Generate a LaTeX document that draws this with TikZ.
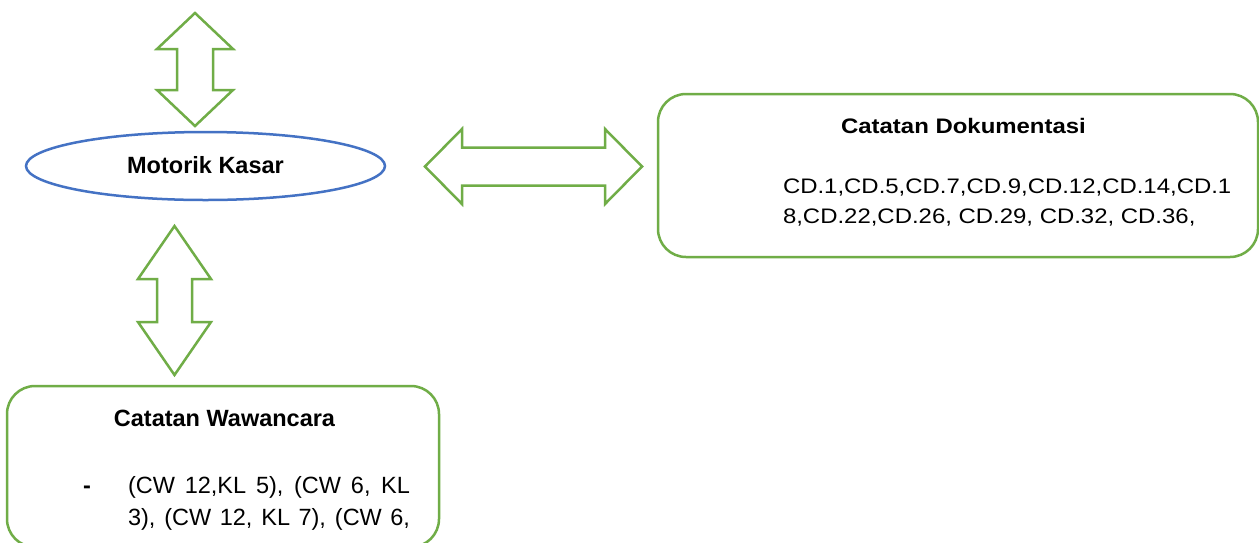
\documentclass[tikz,border=0pt]{standalone}
\usepackage{fontspec}
\usepackage{graphicx}
\setmainfont{Liberation Sans}
\definecolor{leaf}{HTML}{70AD47}
\definecolor{sky}{HTML}{4472C4}

% vertical double block arrow: centre x, top tip y, bottom tip y, head length, head half width, shaft half width
\newcommand\vblockarrow[6]{%
  \draw[blockarrow] (#1,#2) -- (#1+#5,#2+#4) -- (#1+#6,#2+#4) -- (#1+#6,#3-#4)
    -- (#1+#5,#3-#4) -- (#1,#3) -- (#1-#5,#3-#4) -- (#1-#6,#3-#4)
    -- (#1-#6,#2+#4) -- (#1-#5,#2+#4) -- cycle;}
% horizontal double block arrow: centre y, left tip x, right tip x, head length, head half height, shaft half height
\newcommand\hblockarrow[6]{%
  \draw[blockarrow] (#2,#1) -- (#2+#4,#1-#5) -- (#2+#4,#1-#6) -- (#3-#4,#1-#6)
    -- (#3-#4,#1-#5) -- (#3,#1) -- (#3-#4,#1+#5) -- (#3-#4,#1+#6)
    -- (#2+#4,#1+#6) -- (#2+#4,#1+#5) -- cycle;}

\tikzset{
  blockarrow/.style={draw=leaf, line width=2.5pt, line join=miter, fill=white},
  notebox/.style={draw=leaf, line width=2.5pt, rounded corners=28pt},
  lbl/.style={inner sep=0pt, outer sep=0pt},
  headfont/.style={font=\fontsize{23.5}{28}\selectfont\bfseries},
  bodyfont/.style={font=\fontsize{23.5}{28}\selectfont},
}

\begin{document}
\begin{tikzpicture}[x=1pt, y=-1pt]
  \clip (0,0) rectangle (1259,542);
  \fill[white] (0,0) rectangle (1259,542);

  % central concept
  \draw[draw=sky, line width=2.5pt] (205.5,166) ellipse [x radius=179.5, y radius=34];
  \node[lbl, headfont, anchor=base] (motorik) at (205.5,173) {Motorik Kasar};

  % block arrows
  \vblockarrow{195}{13}{126}{36}{38}{18}
  \vblockarrow{174.5}{226}{375}{53}{36.5}{17.5}
  \hblockarrow{166.5}{425}{642}{37}{37.5}{19}

  % documentation notes
  \draw[notebox] (658,94) rectangle (1258,257);
  \node[lbl, anchor=base] (dokjudul) at (963.5,133)
    {\scalebox{1.14}[1]{\fontsize{21}{25}\selectfont\bfseries Catatan Dokumentasi}};
  \node[lbl, anchor=base west] (dok1) at (783,193)
    {\scalebox{1.14}[1]{\fontsize{21}{25}\selectfont CD.1,CD.5,CD.7,CD.9,CD.12,CD.14,CD.1}};
  \node[lbl, anchor=base west] (dok2) at (783,223)
    {\scalebox{1.14}[1]{\fontsize{21}{25}\selectfont 8,CD.22,CD.26, CD.29, CD.32, CD.36,}};

  % interview notes
  \draw[notebox] (7,386) rectangle (439,547);
  \node[lbl, headfont, anchor=base] (wawjudul) at (224.5,426) {Catatan Wawancara};
  \node[lbl, headfont, anchor=base west] (dash) at (83,493) {-};
  \node[lbl, bodyfont, anchor=base west] (waw1) at (128,493)
    {\makebox[282pt][s]{(CW 12,KL 5), (CW 6, KL}};
  \node[lbl, bodyfont, anchor=base west] (waw2) at (128,525)
    {\makebox[282pt][s]{3), (CW 12, KL 7), (CW 6,}};
\end{tikzpicture}
\end{document}
